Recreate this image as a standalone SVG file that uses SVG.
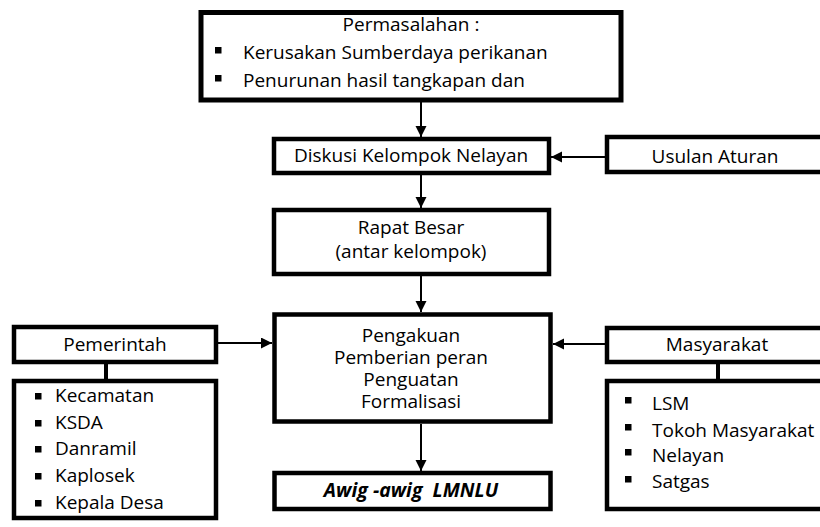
<svg xmlns="http://www.w3.org/2000/svg" width="820" height="527" viewBox="0 0 820 527">
<defs>
<style>
.box{fill:#fff;stroke:#000;stroke-width:4.5}
.t{font-family:"Open Sans","Noto Sans",sans-serif;font-size:19px;fill:#000}
.c{text-anchor:middle}
.b{font-weight:bold;font-style:italic}
.arr{stroke:#000;stroke-width:2;fill:none;marker-end:url(#ah)}
.ln{stroke:#000;stroke-width:4;fill:none}
.blt{fill:#000}
</style>
<marker id="ah" markerUnits="userSpaceOnUse" markerWidth="12" markerHeight="12" refX="11" refY="5.5" orient="auto">
<path d="M0,0 L11,5.5 L0,11 z" fill="#000"/>
</marker>
</defs>
<rect width="820" height="527" fill="#fff"/>
<g id="connectors">
<line class="arr" x1="421" y1="101" x2="421" y2="137"/>
<line class="arr" x1="421" y1="175" x2="421" y2="208"/>
<line class="arr" x1="421" y1="276" x2="421" y2="312"/>
<line class="arr" x1="421" y1="424" x2="421" y2="471"/>
<line class="arr" x1="605" y1="157" x2="551" y2="157"/>
<line class="arr" x1="218" y1="343" x2="272" y2="343"/>
<line class="arr" x1="605" y1="344" x2="553" y2="344"/>
<line class="ln" x1="106" y1="363" x2="106" y2="380"/>
<line class="ln" x1="718" y1="363" x2="718" y2="380"/>
</g>
<g id="permasalahan">
<rect class="box" x="201" y="12.5" width="420" height="87.5" style="stroke-width:5"/>
<text class="t c" x="411" y="31">Permasalahan :</text>
<rect class="blt" x="215" y="47" width="6.5" height="6.5"/>
<text class="t" x="243" y="59">Kerusakan Sumberdaya perikanan</text>
<rect class="blt" x="215" y="75" width="6.5" height="6.5"/>
<text class="t" x="243" y="87">Penurunan hasil tangkapan dan</text>
</g>
<g id="diskusi">
<rect class="box" x="274" y="139" width="275" height="34"/>
<text class="t c" x="411" y="162">Diskusi Kelompok Nelayan</text>
</g>
<g id="usulan">
<rect class="box" x="607" y="137" width="230" height="35"/>
<text class="t c" x="715" y="163">Usulan Aturan</text>
</g>
<g id="rapat">
<rect class="box" x="274" y="210" width="275" height="64"/>
<text class="t c" x="411" y="234">Rapat Besar</text>
<text class="t c" x="411" y="258">(antar kelompok)</text>
</g>
<g id="pengakuan">
<rect class="box" x="274.5" y="314.5" width="276" height="107"/>
<text class="t c" x="411" y="342">Pengakuan</text>
<text class="t c" x="411" y="364">Pemberian peran</text>
<text class="t c" x="411" y="386">Penguatan</text>
<text class="t c" x="411" y="408">Formalisasi</text>
</g>
<g id="awig">
<rect class="box" x="274.5" y="473" width="276" height="36"/>
<text class="t c b" x="411" y="497" xml:space="preserve" style="font-size:19.5px">Awig -awig  LMNLU</text>
</g>
<g id="pemerintah">
<rect class="box" x="14" y="327" width="202" height="35"/>
<text class="t c" x="115" y="351">Pemerintah</text>
</g>
<g id="pemerintah-list">
<rect class="box" x="14" y="381" width="202" height="137"/>
<rect class="blt" x="35" y="393" width="6.5" height="6.5"/>
<text class="t" x="55" y="402">Kecamatan</text>
<rect class="blt" x="35" y="420" width="6.5" height="6.5"/>
<text class="t" x="55" y="429">KSDA</text>
<rect class="blt" x="35" y="446" width="6.5" height="6.5"/>
<text class="t" x="55" y="455">Danramil</text>
<rect class="blt" x="35" y="473" width="6.5" height="6.5"/>
<text class="t" x="55" y="482">Kaplosek</text>
<rect class="blt" x="35" y="500" width="6.5" height="6.5"/>
<text class="t" x="55" y="509">Kepala Desa</text>
</g>
<g id="masyarakat">
<rect class="box" x="607" y="328" width="230" height="34"/>
<text class="t c" x="717" y="351">Masyarakat</text>
</g>
<g id="masyarakat-list">
<rect class="box" x="607" y="381" width="230" height="128"/>
<rect class="blt" x="625" y="397" width="6.5" height="6.5"/>
<text class="t" x="652" y="410">LSM</text>
<rect class="blt" x="625" y="424" width="6.5" height="6.5"/>
<text class="t" x="652" y="437">Tokoh Masyarakat</text>
<rect class="blt" x="625" y="449" width="6.5" height="6.5"/>
<text class="t" x="652" y="462">Nelayan</text>
<rect class="blt" x="625" y="476" width="6.5" height="6.5"/>
<text class="t" x="652" y="488">Satgas</text>
</g>
</svg>
